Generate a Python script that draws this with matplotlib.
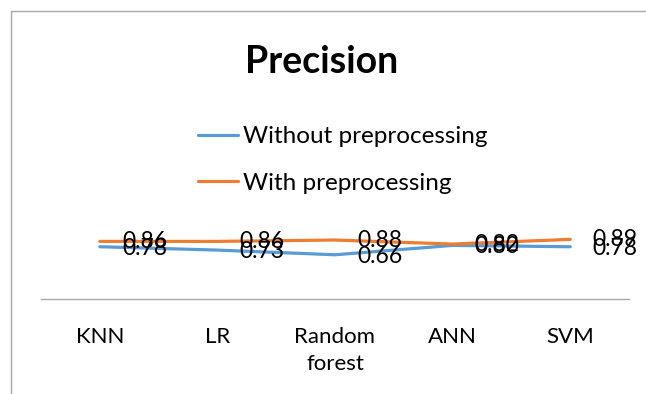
import numpy as np
import matplotlib.pyplot as plt
from matplotlib.patches import Rectangle

plt.rcParams['font.family'] = ['Lato', 'DejaVu Sans']

# Models and precision scores
models = ["KNN", "LR", "Random\nforest", "ANN", "SVM"]
without_prep = [0.78, 0.73, 0.66, 0.80, 0.78]
with_prep = [0.86, 0.86, 0.88, 0.82, 0.89]

blue = "#5B9BD5"
orange = "#ED7D31"

W, H = 646, 394
fig = plt.figure(figsize=(W / 100, H / 100), dpi=100)

# chart border (open to the right and bottom)
fig.patches.append(Rectangle((11 / W, -0.2), 1.2, (H - 11) / H + 0.2,
                             transform=fig.transFigure, fill=False,
                             edgecolor="#a6a6a6", linewidth=1.0))

ax = fig.add_axes([41 / W, (H - 299) / H, 588 / W, 201 / H])
x = np.arange(len(models))

l1, = ax.plot(x, without_prep, color=blue, lw=2.3, solid_capstyle="round",
              label="Without preprocessing")
l2, = ax.plot(x, with_prep, color=orange, lw=2.3, solid_capstyle="round",
              label="With preprocessing")

# value labels to the right of each point
for xi, v in zip(x, without_prep):
    ax.annotate(f"{v:.2f}", (xi, v), xytext=(16, -1), textcoords="offset points",
                ha="left", va="center", fontsize=16.5, color="black")
for xi, v in zip(x, with_prep):
    ax.annotate(f"{v:.2f}", (xi, v), xytext=(16, 0), textcoords="offset points",
                ha="left", va="center", fontsize=16.5, color="black")

ax.set_xlim(-0.5, len(models) - 0.5)
ax.set_ylim(0, 3.0)
ax.set_xticks(x)
ax.set_xticklabels(models, fontsize=16, linespacing=1.45, va="top")
ax.tick_params(axis="x", length=0, pad=20)
ax.set_yticks([])
for side in ["left", "right", "top"]:
    ax.spines[side].set_visible(False)
ax.spines["bottom"].set_color("#a6a6a6")
ax.spines["bottom"].set_linewidth(1.0)
ax.patch.set_alpha(0)

fig.text(322 / W, 1 - 62 / H, "Precision", ha="center", va="center",
         fontsize=27, fontweight="bold")

fig.legend(handles=[l1, l2], loc="upper left",
           bbox_to_anchor=(198 / W, 1 - 126 / H), frameon=False,
           fontsize=17.5, handlelength=1.65, handletextpad=0.2,
           labelspacing=1.05, borderpad=0, borderaxespad=0)

fig.savefig("out.png", dpi=100)
